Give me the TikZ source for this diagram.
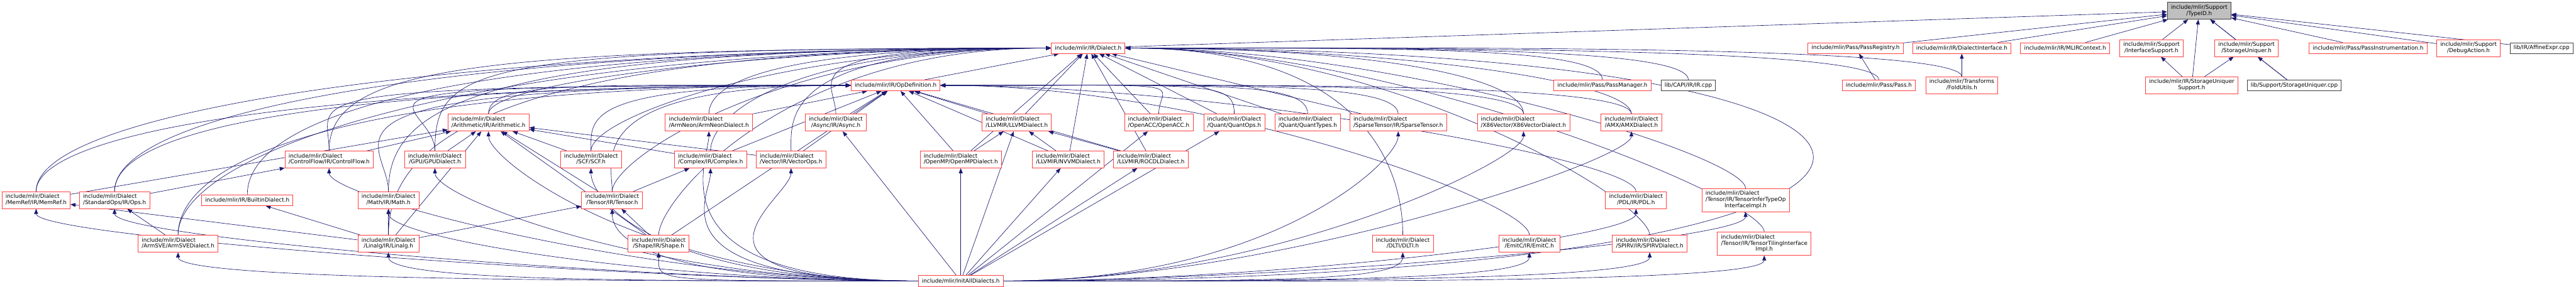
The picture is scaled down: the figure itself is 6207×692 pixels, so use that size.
\documentclass[tikz,border=0pt]{standalone}
\usepackage{fontspec}
\setmainfont{DejaVu Sans}
\usetikzlibrary{arrows.meta,backgrounds}

\definecolor{boxred}{RGB}{255,64,64}
\definecolor{edgeblue}{RGB}{25,25,112}
\definecolor{rootgray}{RGB}{191,191,191}
\definecolor{srcgray}{RGB}{64,64,64}

% first line flush left, the rest centred (as doxygen does)
\newcommand{\filelabel}[2]{\begin{tabular}{@{}l@{}}#1\\\multicolumn{1}{@{}c@{}}{#2}\end{tabular}}
\newcommand{\filelabelc}[3]{\begin{tabular}{@{}l@{}}#1\\\multicolumn{1}{@{}c@{}}{#2}\\\multicolumn{1}{@{}c@{}}{#3}\end{tabular}}

\begin{document}
\begin{tikzpicture}
[
    x=0.75pt, y=0.75pt,
    file/.style={draw=boxred, fill=white, line width=1pt, inner xsep=6.5pt, inner ysep=2pt,
        minimum height=19.5pt, font=\fontsize{10}{11.25}\selectfont},
    file2/.style={file, minimum height=30.5pt},
    file3/.style={file, minimum height=41.5pt},
    srcfile/.style={file, draw=srcgray},
    rootfile/.style={file2, draw=srcgray, fill=rootgray},
    dep/.style={draw=edgeblue, line width=0.75pt, -{Triangle[length=9pt,width=7pt]}},
    farleft/.style={to path={(\tikztostart.north) .. controls +(0,#1) and +(-1400,0) .. (\tikztotarget.west)}},
    fromleft/.style={to path={(\tikztostart.north) .. controls +(0,80) and +(-650,0) .. (\tikztotarget.west)}},
    fromright/.style={to path={(\tikztostart.north) .. controls +(0,80) and +(650,0) .. (\tikztotarget.east)}},
    toleft/.style={to path={(\tikztostart.west) .. controls +(-650,0) and +(0,-70) .. (\tikztotarget.south)}},
    toright/.style={to path={(\tikztostart.east) .. controls +(650,0) and +(0,-70) .. (\tikztotarget.south)}}
]
    \useasboundingbox (0,0) rectangle (6207,-692);

    % row 0
    \node [rootfile] (typeid) at (5299,-26) {\filelabel{include/mlir/Support}{/TypeID.h}};

    % row 1
    \node [file] (dialect) at (2622,-116) {include/mlir/IR/Dialect.h};
    \node [file] (passreg) at (4471,-116) {include/mlir/Pass/PassRegistry.h};
    \node [file] (dialectif) at (4727,-116) {include/mlir/IR/DialectInterface.h};
    \node [file] (mlirctx) at (4976,-116) {include/mlir/IR/MLIRContext.h};
    \node [file2] (ifsupport) at (5184,-116) {\filelabel{include/mlir/Support}{/InterfaceSupport.h}};
    \node [file2] (suniq) at (5413,-116) {\filelabel{include/mlir/Support}{/StorageUniquer.h}};
    \node [file] (passinstr) at (5706,-116) {include/mlir/Pass/PassInstrumentation.h};
    \node [file2] (debugact) at (5948,-116) {\filelabel{include/mlir/Support}{/DebugAction.h}};
    \node [srcfile] (affexpr) at (6124,-116) {lib/IR/AffineExpr.cpp};

    % row 2
    \node [file] (opdef) at (2158,-206) {include/mlir/IR/OpDefinition.h};
    \node [file] (passmgr) at (3861,-206) {include/mlir/Pass/PassManager.h};
    \node [srcfile] (capiir) at (4068,-206) {lib/CAPI/IR/IR.cpp};
    \node [file] (pass) at (4527,-206) {include/mlir/Pass/Pass.h};
    \node [file2] (foldutils) at (4727,-206) {\filelabel{include/mlir/Transforms}{/FoldUtils.h}};
    \node [file2] (susupport) at (5281,-206) {\filelabel{include/mlir/IR/StorageUniquer}{Support.h}};
    \node [srcfile] (suniqcpp) at (5528,-206) {lib/Support/StorageUniquer.cpp};

    % row 3
    \node [file2] (arith) at (1177,-296) {\filelabel{include/mlir/Dialect}{/Arithmetic/IR/Arithmetic.h}};
    \node [file2] (armneon) at (1708,-296) {\filelabel{include/mlir/Dialect}{/ArmNeon/ArmNeonDialect.h}};
    \node [file2] (async) at (2014,-296) {\filelabel{include/mlir/Dialect}{/Async/IR/Async.h}};
    \node [file2] (llvm) at (2450,-296) {\filelabel{include/mlir/Dialect}{/LLVMIR/LLVMDialect.h}};
    \node [file2] (openacc) at (2792,-296) {\filelabel{include/mlir/Dialect}{/OpenACC/OpenACC.h}};
    \node [file2] (quantops) at (2974,-296) {\filelabel{include/mlir/Dialect}{/Quant/QuantOps.h}};
    \node [file2] (quanttypes) at (3151,-296) {\filelabel{include/mlir/Dialect}{/Quant/QuantTypes.h}};
    \node [file2] (sparse) at (3369,-296) {\filelabel{include/mlir/Dialect}{/SparseTensor/IR/SparseTensor.h}};
    \node [file2] (x86) at (3671,-296) {\filelabel{include/mlir/Dialect}{/X86Vector/X86VectorDialect.h}};
    \node [file2] (amx) at (3931,-296) {\filelabel{include/mlir/Dialect}{/AMX/AMXDialect.h}};

    % row 4
    \node [file2] (cf) at (793,-385) {\filelabel{include/mlir/Dialect}{/ControlFlow/IR/ControlFlow.h}};
    \node [file2] (gpu) at (1048,-385) {\filelabel{include/mlir/Dialect}{/GPU/GPUDialect.h}};
    \node [file2] (scf) at (1424,-385) {\filelabel{include/mlir/Dialect}{/SCF/SCF.h}};
    \node [file2] (complex) at (1712,-385) {\filelabel{include/mlir/Dialect}{/Complex/IR/Complex.h}};
    \node [file2] (vector) at (1906,-385) {\filelabel{include/mlir/Dialect}{/Vector/IR/VectorOps.h}};
    \node [file2] (omp) at (2315,-385) {\filelabel{include/mlir/Dialect}{/OpenMP/OpenMPDialect.h}};
    \node [file2] (nvvm) at (2574,-385) {\filelabel{include/mlir/Dialect}{/LLVMIR/NVVMDialect.h}};
    \node [file2] (rocdl) at (2773,-385) {\filelabel{include/mlir/Dialect}{/LLVMIR/ROCDLDialect.h}};

    % row 5
    \node [file2] (memref) at (87,-483) {\filelabel{include/mlir/Dialect}{/MemRef/IR/MemRef.h}};
    \node [file2] (std) at (276,-483) {\filelabel{include/mlir/Dialect}{/StandardOps/IR/Ops.h}};
    \node [file] (builtin) at (596,-483) {include/mlir/IR/BuiltinDialect.h};
    \node [file2] (math) at (936,-483) {\filelabel{include/mlir/Dialect}{/Math/IR/Math.h}};
    \node [file2] (tensor) at (1475,-483) {\filelabel{include/mlir/Dialect}{/Tensor/IR/Tensor.h}};
    \node [file2] (pdl) at (3942,-483) {\filelabel{include/mlir/Dialect}{/PDL/IR/PDL.h}};
    \node [file3] (tinfer) at (4206,-483) {\filelabelc{include/mlir/Dialect}{/Tensor/IR/TensorInferTypeOp}{InterfaceImpl.h}};

    % row 6
    \node [file2] (armsve) at (429,-588) {\filelabel{include/mlir/Dialect}{/ArmSVE/ArmSVEDialect.h}};
    \node [file2] (linalg) at (936,-588) {\filelabel{include/mlir/Dialect}{/Linalg/IR/Linalg.h}};
    \node [file2] (shape) at (1587,-588) {\filelabel{include/mlir/Dialect}{/Shape/IR/Shape.h}};
    \node [file2] (dlti) at (3380,-588) {\filelabel{include/mlir/Dialect}{/DLTI/DLTI.h}};
    \node [file2] (emitc) at (3685,-588) {\filelabel{include/mlir/Dialect}{/EmitC/IR/EmitC.h}};
    \node [file2] (spirv) at (3975,-588) {\filelabel{include/mlir/Dialect}{/SPIRV/IR/SPIRVDialect.h}};
    \node [file3] (ttiling) at (4251,-588) {\filelabelc{include/mlir/Dialect}{/Tensor/IR/TensorTilingInterface}{Impl.h}};

    % row 7
    \node [file] (initall) at (2315,-678) {include/mlir/InitAllDialects.h};

    \begin{scope}[on background layer]
        % TypeID.h and its direct users
        \foreach \n in {dialect,passreg,dialectif,mlirctx,ifsupport,susupport,suniq,suniqcpp,passinstr,debugact,affexpr}
            \draw [dep] (\n) -- (typeid);
        \draw [dep] (pass) -- (passreg);
        \draw [dep] (foldutils) -- (dialectif);
        \draw [dep] (susupport) -- (ifsupport);
        \draw [dep] (susupport) -- (suniq);
        \draw [dep] (suniqcpp) -- (suniq);

        % Dialect.h
        \foreach \n in {memref,std,builtin,armsve,cf,math,linalg,gpu}
            \draw [dep] (\n) to[farleft=200] (dialect);
        \foreach \n in {arith,scf,tensor,shape,complex,vector,armneon,async}
            \draw [dep] (\n) to[fromleft] (dialect);
        \foreach \n in {opdef,llvm,omp,nvvm,rocdl,openacc,quantops,quanttypes,sparse}
            \draw [dep] (\n) -- (dialect);
        \foreach \n in {x86,amx,dlti,spirv,tinfer,ttiling,passmgr,capiir,pass,foldutils}
            \draw [dep] (\n) to[fromright] (dialect);
        \draw [dep] (initall.east) .. controls +(2500,0) and +(2300,0) .. (dialect.east);

        % OpDefinition.h
        \foreach \n in {memref,std,armsve,cf,math,gpu}
            \draw [dep] (\n) to[farleft=130] (opdef);
        \foreach \n in {arith,scf,tensor}
            \draw [dep] (\n) to[fromleft] (opdef);
        \foreach \n in {shape,armneon,complex,vector,async,omp,llvm,nvvm,rocdl}
            \draw [dep] (\n) -- (opdef);
        \foreach \n in {openacc,quantops,quanttypes,sparse,x86,amx,emitc,pdl}
            \draw [dep] (\n) to[fromright] (opdef);

        % between the dialects
        \foreach \n in {cf,gpu,scf,tensor,linalg,shape,vector,complex,memref}
            \draw [dep] (\n) -- (arith);
        \draw [dep] (std) -- (cf);
        \draw [dep] (armsve) -- (std);
        \draw [dep] (linalg) -- (math);
        \draw [dep] (linalg) -- (tensor);
        \draw [dep] (linalg) -- (memref);
        \draw [dep] (linalg) -- (builtin);
        \draw [dep] (shape) -- (tensor);
        \draw [dep] (tensor) -- (complex);
        \draw [dep] (omp) -- (llvm);
        \draw [dep] (nvvm) -- (llvm);
        \draw [dep] (rocdl) -- (llvm);

        % InitAllDialects.h
        \foreach \n in {memref,std,armsve,linalg,math,cf,gpu,arith,scf,tensor,shape,complex,vector,armneon}
            \draw [dep] (initall) to[toleft] (\n);
        \foreach \n in {async,omp,llvm,nvvm,rocdl,openacc,quantops}
            \draw [dep] (initall) -- (\n);
        \foreach \n in {sparse,dlti,x86,emitc,amx,pdl,spirv,tinfer,ttiling}
            \draw [dep] (initall) to[toright] (\n);
    \end{scope}
\end{tikzpicture}
\end{document}
